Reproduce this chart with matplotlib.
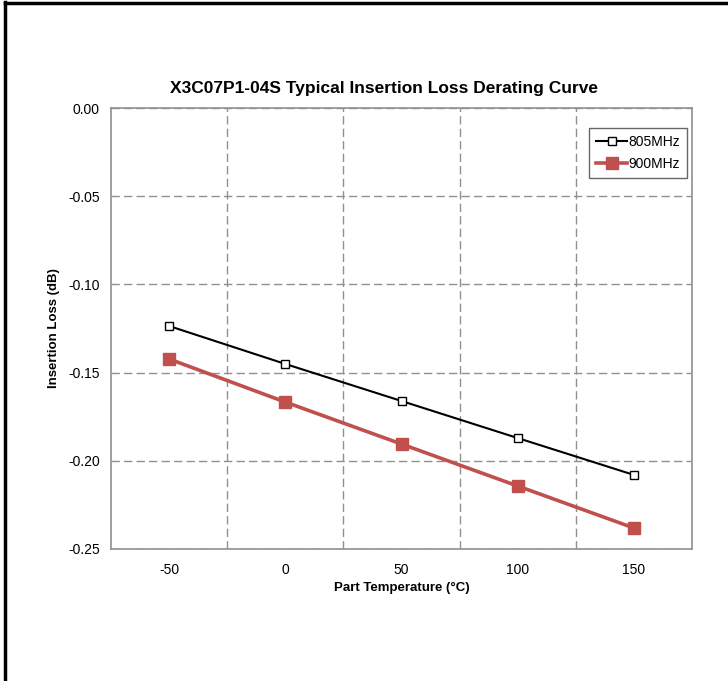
import matplotlib
matplotlib.use("Agg")
import matplotlib.pyplot as plt
from matplotlib.lines import Line2D

plt.rcParams['font.family'] = ['Liberation Sans', 'DejaVu Sans']

temps = ["-50", "0", "50", "100", "150"]
loss_805 = [-0.1236, -0.1451, -0.1661, -0.1871, -0.2080]
loss_900 = [-0.1423, -0.1667, -0.1905, -0.2143, -0.2381]

fig = plt.figure(figsize=(7.28, 6.81), dpi=100)
ax = fig.add_axes([111/728, 1-549/681, 581/728, 441/681])

x = range(len(temps))
ax.plot(x, loss_805, color='black', lw=1.5, marker='s', ms=5.5,
        mfc='white', mec='black', mew=1.0, label='805MHz', zorder=4)
ax.plot(x, loss_900, color='#C0504D', lw=2.6, marker='s', ms=8,
        mfc='#C0504D', mec='#C0504D', label='900MHz', zorder=3)

ax.set_xlim(-0.5, len(temps)-0.5)
ax.set_xticks(list(x))
ax.set_xticklabels(temps)
ax.set_xticks([i+0.5 for i in range(len(temps)-1)], minor=True)
ax.set_ylim(-0.25, 0.0)
ax.set_yticks([0.0, -0.05, -0.10, -0.15, -0.20, -0.25])
ax.set_yticklabels(["0.00", "-0.05", "-0.10", "-0.15", "-0.20", "-0.25"])

ax.grid(True, which='minor', axis='x', color='#909090', ls=(0, (6, 3)), lw=1.0)
ax.grid(True, which='major', axis='y', color='#909090', ls=(0, (6, 3)), lw=1.0)
ax.tick_params(which='both', length=0, labelsize=10, pad=8)
ax.tick_params(axis='x', pad=10)
for s in ax.spines.values():
    s.set_color('#909090')
    s.set_linewidth(1.2)

ax.set_title("X3C07P1-04S Typical Insertion Loss Derating Curve",
             fontsize=12.5, fontweight='bold', pad=11, x=0.47)
ax.set_xlabel("Part Temperature (°C)", fontsize=9.5, fontweight='bold', labelpad=4)
ax.set_ylabel("Insertion Loss (dB)", fontsize=9.5, fontweight='bold', labelpad=6)

leg = ax.legend(loc='upper right', bbox_to_anchor=(1.003, 0.971), fontsize=10,
                frameon=True, fancybox=False, handlelength=2.2,
                handletextpad=0.1, borderpad=0.5, labelspacing=0.6)
leg.get_frame().set_edgecolor('#404040')
leg.get_frame().set_linewidth(1.0)

# outer frame (top and left only)
fig.add_artist(Line2D([5/728, 5/728], [0, 1-2/681], color='black', lw=2.5,
                      transform=fig.transFigure))
fig.add_artist(Line2D([5/728, 1], [1-2.5/681, 1-2.5/681], color='black', lw=2.5,
                      transform=fig.transFigure))

fig.savefig("out.png", dpi=100)
